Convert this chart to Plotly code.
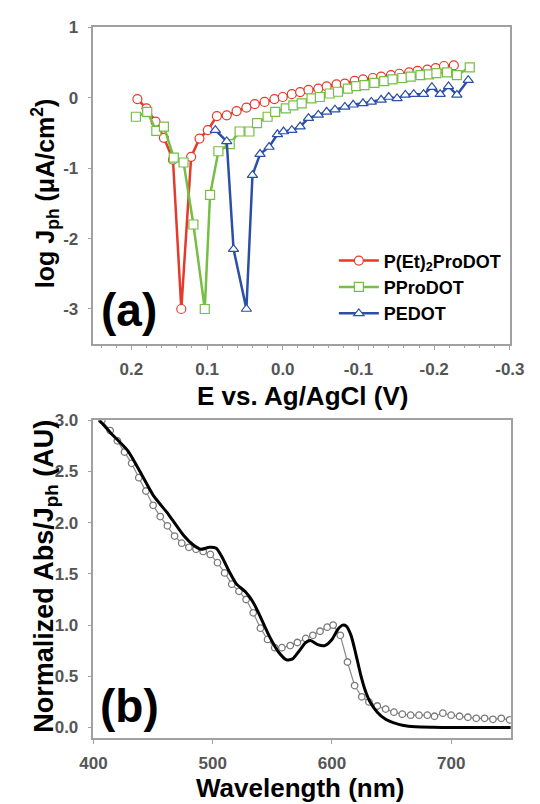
import plotly.graph_objects as go

# ---------------- Panel (a) data ----------------
E_red = [0.192, 0.180, 0.168, 0.157, 0.145, 0.134, 0.121, 0.110, 0.099, 0.087, 0.074, 0.061,
         0.048, 0.037, 0.024, 0.011, 0.000, -0.012, -0.023, -0.034, -0.047, -0.058, -0.071,
         -0.082, -0.095, -0.106, -0.119, -0.130, -0.143, -0.154, -0.167, -0.178, -0.191,
         -0.202, -0.213, -0.226]
logJ_red = [-0.02, -0.15, -0.34, -0.57, -0.88, -3.0, -0.84, -0.58, -0.46, -0.26, -0.25, -0.19,
            -0.14, -0.09, -0.06, -0.02, 0.01, 0.05, 0.08, 0.11, 0.13, 0.16, 0.19, 0.20, 0.24,
            0.26, 0.28, 0.30, 0.32, 0.34, 0.36, 0.38, 0.40, 0.42, 0.45, 0.46]

E_green = [0.194, 0.179, 0.167, 0.157, 0.144, 0.131, 0.118, 0.103, 0.096, 0.085, 0.070, 0.057,
           0.044, 0.034, 0.020, 0.010, -0.004, -0.014, -0.025, -0.038, -0.049, -0.062, -0.073,
           -0.086, -0.097, -0.108, -0.121, -0.134, -0.145, -0.158, -0.169, -0.182, -0.193,
           -0.203, -0.217, -0.230, -0.247]
logJ_green = [-0.27, -0.20, -0.47, -0.41, -0.85, -0.92, -1.80, -3.0, -1.38, -0.76, -0.66, -0.48,
              -0.48, -0.36, -0.27, -0.20, -0.15, -0.11, -0.08, -0.01, 0.01, 0.06, 0.085, 0.13,
              0.165, 0.18, 0.21, 0.235, 0.26, 0.28, 0.30, 0.32, 0.33, 0.35, 0.36, 0.32, 0.43]

E_blue = [0.089, 0.074, 0.065, 0.048, 0.040, 0.030, 0.018, 0.007, -0.001, -0.012, -0.023, -0.034,
          -0.047, -0.058, -0.069, -0.082, -0.093, -0.106, -0.117, -0.130, -0.140, -0.151, -0.162,
          -0.173, -0.186, -0.197, -0.208, -0.219, -0.230, -0.245]
logJ_blue = [-0.46, -0.62, -2.15, -3.0, -1.10, -0.80, -0.70, -0.52, -0.48, -0.46, -0.41, -0.29,
             -0.245, -0.20, -0.17, -0.13, -0.10, -0.08, -0.06, -0.03, 0.01, -0.01, 0.04, 0.05,
             0.05, 0.15, 0.05, 0.16, 0.04, 0.25]

series_names = ["P(Et)<sub>2</sub>ProDOT", "PProDOT", "PEDOT"]

# ---------------- Panel (b) data ----------------
wl_abs = [405, 415, 429, 439, 450, 463, 476, 484, 490, 497, 503, 508, 514, 520, 527, 533, 538,
          548, 555, 562, 567, 572, 578, 582, 588, 594, 600, 605, 609, 612, 616, 620, 624, 628,
          632, 638, 645, 652, 660, 670, 685, 700, 720, 750]
abs_norm = [3.0, 2.87, 2.70, 2.50, 2.27, 2.08, 1.87, 1.78, 1.74, 1.76, 1.75, 1.66, 1.52, 1.40,
            1.33, 1.24, 1.13, 0.88, 0.74, 0.66, 0.67, 0.74, 0.83, 0.85, 0.81, 0.80, 0.86, 0.96,
            1.0, 0.99, 0.90, 0.72, 0.52, 0.36, 0.25, 0.15, 0.08, 0.045, 0.02, 0.008, 0.003, 0.0,
            0.0, 0.0]

wl_jph = [407, 414, 420, 426, 432, 438, 444, 450, 456, 462, 468, 474, 480, 486, 492, 498, 504,
          510, 516, 522, 528, 534, 540, 546, 552, 558, 565, 571, 578, 584, 590, 596, 601, 607,
          613, 619, 625, 631, 638, 645, 652, 659, 666, 673, 680, 686, 693, 700, 707, 714, 721,
          728, 735, 742, 749]
jph_norm = [3.0, 2.90, 2.80, 2.69, 2.58, 2.44, 2.31, 2.17, 2.06, 1.97, 1.87, 1.80, 1.76, 1.74,
            1.72, 1.69, 1.61, 1.51, 1.40, 1.33, 1.25, 1.12, 0.97, 0.86, 0.78, 0.78, 0.80, 0.83,
            0.87, 0.90, 0.94, 0.98, 1.0, 0.90, 0.64, 0.41, 0.30, 0.25, 0.21, 0.18, 0.15, 0.13,
            0.12, 0.12, 0.12, 0.11, 0.14, 0.12, 0.11, 0.10, 0.09, 0.09, 0.08, 0.09, 0.075]

xticks_a = [0.2, 0.1, 0.0, -0.1, -0.2, -0.3]
xticklabels_a = ["0.2", "0.1", "0.0", "-0.1", "-0.2", "-0.3"]
yticks_a = [-3, -2, -1, 0, 1]
yticklabels_a = ["-3", "-2", "-1", "0", "1"]

# ---------------- figure ----------------
W, H = 540, 804
FONT = "Liberation Sans, Arial, sans-serif"

colors = ["#e5392a", "#74bf44", "#2b4fa6"]
symbols = ["circle", "square", "triangle-up"]

fig = go.Figure()
for name, xs, ys, col, sym in zip(series_names,
                                  [E_red, E_green, E_blue],
                                  [logJ_red, logJ_green, logJ_blue],
                                  colors, symbols):
    fig.add_trace(go.Scatter(
        x=xs, y=ys, name=name, mode="lines+markers",
        line=dict(color=col, width=2.5),
        marker=dict(symbol=sym, size=9, color="white", line=dict(color=col, width=1.2)),
        xaxis="x", yaxis="y", showlegend=True))

fig.add_trace(go.Scatter(
    x=wl_jph, y=jph_norm, mode="lines+markers", name="Jph",
    line=dict(color="#8a8a8a", width=1.2),
    marker=dict(symbol="circle", size=6.5, color="white", line=dict(color="#7a7a7a", width=1.3)),
    xaxis="x2", yaxis="y2", showlegend=False))
fig.add_trace(go.Scatter(
    x=wl_abs, y=abs_norm, mode="lines", name="Abs",
    line=dict(color="black", width=3, shape="spline", smoothing=0.6),
    xaxis="x2", yaxis="y2", showlegend=False))

tickfont = dict(family=FONT, size=17, color="#555555", weight="bold")
axline = dict(showline=True, linecolor="#a0a0a0", linewidth=1.5, mirror=True,
              showgrid=False, zeroline=False, ticks="outside", ticklen=4,
              tickcolor="#a0a0a0", tickfont=tickfont)

fig.update_layout(
    width=W, height=H,
    margin=dict(l=0, r=0, t=0, b=0),
    paper_bgcolor="white", plot_bgcolor="white",
    font=dict(family=FONT),
    xaxis=dict(domain=[84 / W, 524 / W], range=[0.25, -0.3], anchor="y",
               tickmode="array", tickvals=xticks_a, ticktext=xticklabels_a,
               ticklabelstandoff=5,
               minor=dict(ticks="outside", ticklen=2, tickcolor="#a0a0a0", dtick=0.02, tick0=0),
               **axline),
    yaxis=dict(domain=[1 - 339 / H, 1 - 18.5 / H], range=[-3.5, 1], anchor="x",
               tickmode="array", tickvals=yticks_a, ticktext=yticklabels_a,
               ticklabelstandoff=6, **axline),
    xaxis2=dict(domain=[84 / W, 525 / W], range=[400, 750], anchor="y2",
                dtick=100, tick0=400, ticklabelstandoff=5, **axline),
    yaxis2=dict(domain=[1 - 737 / H, 1 - 416 / H], range=[-0.1, 3.0], anchor="x2",
                dtick=0.5, tick0=0, tickformat=".1f", ticklabelstandoff=6, **axline),
    legend=dict(x=338 / W, y=1 - 236 / H, xanchor="left", yanchor="top",
                bgcolor="rgba(0,0,0,0)", borderwidth=0,
                font=dict(family=FONT, size=18, color="black", weight="bold"),
                tracegroupgap=0, itemwidth=40),
    showlegend=True,
)

annots = [
    dict(text="log J<sub>ph</sub> (μA/cm<sup>2</sup>)", x=33 / W, y=1 - 186 / H, textangle=-90, size=25),
    dict(text="E vs. Ag/AgCl (V)", x=305 / W, y=1 - 391 / H, textangle=0, size=26),
    dict(text="Normalized Abs/J<sub>ph</sub> (AU)", x=33 / W, y=1 - 574 / H, textangle=-90, size=27),
    dict(text="Wavelength (nm)", x=302 / W, y=1 - 788 / H, textangle=0, size=26),
]
for a in annots:
    size = a.pop("size")
    fig.add_annotation(xref="paper", yref="paper", xanchor="center", yanchor="middle",
                       showarrow=False,
                       font=dict(family=FONT, size=size, color="black", weight="bold"), **a)

label_font = dict(family=FONT, size=46, color="black", weight="bold")
fig.add_annotation(xref="paper", yref="paper", x=122 / W, y=1 - 304 / H, text="(a)",
                   showarrow=False, xanchor="center", yanchor="middle", font=label_font)
fig.add_annotation(xref="paper", yref="paper", x=122 / W, y=1 - 705 / H, text="(b)",
                   showarrow=False, xanchor="center", yanchor="middle", font=label_font)

fig.write_html("out.html",
               config={"displayModeBar": False},
               post_script="document.body.style.margin='0px';document.body.style.padding='0px';")
